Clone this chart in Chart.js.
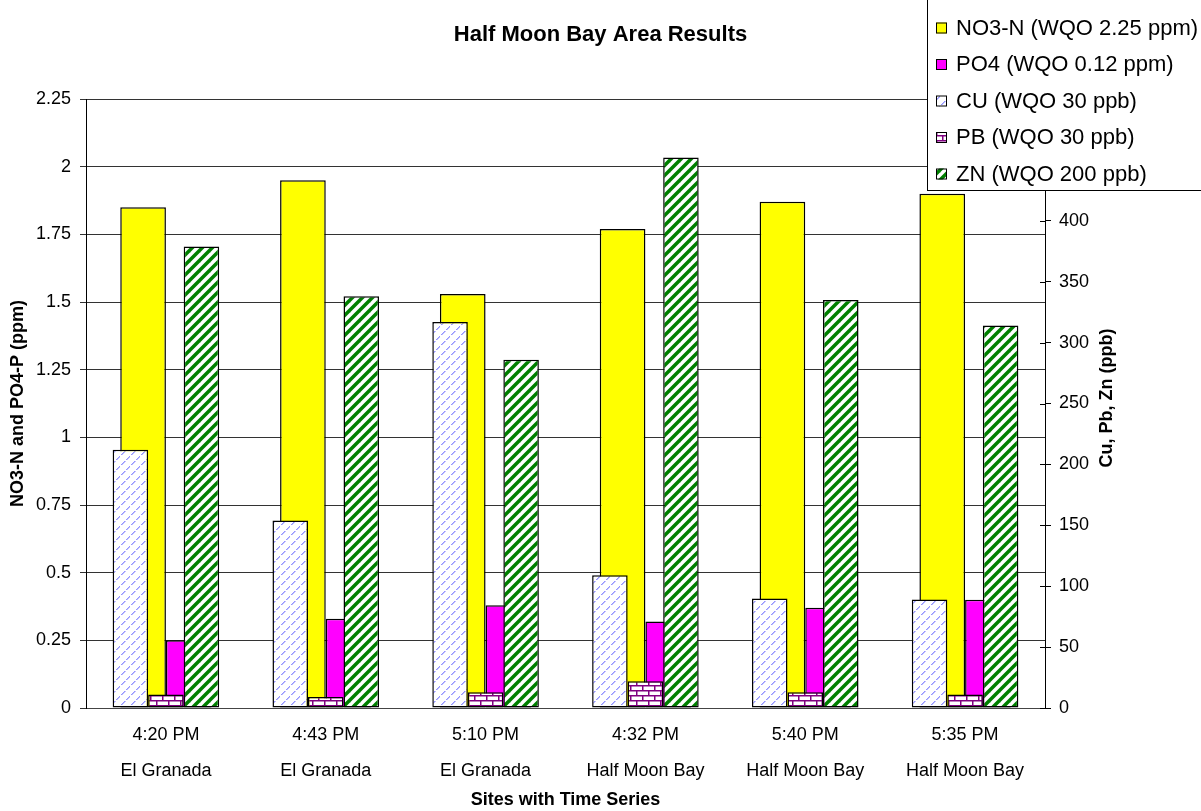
<!DOCTYPE html>
<html>
<head>
<meta charset="utf-8">
<title>Half Moon Bay Area Results</title>
<script src="https://cdn.jsdelivr.net/npm/chart.js@4/dist/chart.umd.min.js"></script>
<style>
    html, body { margin: 0; padding: 0; background: #fff; }
    #grafico { display: block; }
</style>
</head>
<body>
<canvas id="grafico" width="1201" height="811"></canvas>
<script>
const times = ['4:20 PM', '4:43 PM', '5:10 PM', '4:32 PM', '5:40 PM', '5:35 PM'];
const sites = ['El Granada', 'El Granada', 'El Granada', 'Half Moon Bay', 'Half Moon Bay', 'Half Moon Bay'];

// left axis, ppm
const no3 = [1.85, 1.95, 1.53, 1.77, 1.87, 1.90];
const po4 = [0.25, 0.33, 0.38, 0.32, 0.37, 0.40];
// right axis, ppb
const cu = [212, 154, 317, 109, 90, 89];
const pb = [11, 9, 13, 22, 13, 11];
const zn = [379, 338, 286, 452, 335, 314];

const leftTicks = [0, 0.25, 0.5, 0.75, 1, 1.25, 1.5, 1.75, 2, 2.25];
const rightTicks = [0, 50, 100, 150, 200, 250, 300, 350, 400, 450, 500];

const seriesNames = ['NO3-N (WQO 2.25 ppm)', 'PO4 (WQO 0.12 ppm)', 'CU (WQO 30 ppb)', 'PB (WQO 30 ppb)', 'ZN (WQO 200 ppb)'];

const FONT = 'Arial, "Liberation Sans", sans-serif';
const canvas = document.getElementById('grafico');
const ctx = canvas.getContext('2d');

// each x axis keeps its own group of bars, like Excel primary / secondary series
class GroupedBar extends Chart.BarController {
    _getAxis() { return [this._cachedMeta.iScale.id]; }
    _getAxisCount() { return 1; }
}
GroupedBar.id = 'groupedBar';
GroupedBar.defaults = Chart.BarController.defaults;
GroupedBar.overrides = Chart.BarController.overrides;
Chart.register(GroupedBar);

function makePattern(w, h, draw) {
    const c = document.createElement('canvas');
    c.width = w;
    c.height = h;
    const g = c.getContext('2d');
    g.fillStyle = '#fff';
    g.fillRect(0, 0, w, h);
    draw(g);
    return ctx.createPattern(c, 'repeat');
}

const cuFill = makePattern(10, 10, g => {
    g.fillStyle = '#9494ff';
    [[1, 4], [2, 3], [3, 2], [4, 1], [6, 9], [7, 8], [8, 7], [9, 6]].forEach(([x, y]) => g.fillRect(x, y, 1.6, 1));
});

const pbFill = makePattern(12, 10, g => {
    g.fillStyle = '#800080';
    g.fillRect(0, 0, 12, 1.5);
    g.fillRect(0, 5, 12, 1.5);
    g.fillRect(0, 0, 1.5, 5);
    g.fillRect(6, 5, 1.5, 5);
});

const znFill = makePattern(10, 10, g => {
    g.strokeStyle = '#008000';
    g.lineWidth = 3.5;
    for (let k = -1; k <= 1; k++) {
        g.beginPath();
        g.moveTo(k * 10 - 2, 12);
        g.lineTo(k * 10 + 12, -2);
        g.stroke();
    }
});

const barBase = {
    borderColor: '#000',
    borderWidth: 1.5,
    borderSkipped: false,
    barPercentage: 1
};

const extras = {
    id: 'extras',
    afterDraw(chart) {
        const c = chart.ctx;
        const area = chart.chartArea;
        const y2 = chart.scales.y2;

        // right axis ticks cross the axis line
        c.save();
        c.strokeStyle = '#000';
        c.lineWidth = 1;
        y2.ticks.forEach(t => {
            const py = Math.round(y2.getPixelForValue(t.value)) + 0.5;
            c.beginPath();
            c.moveTo(area.right - 5, py);
            c.lineTo(area.right, py);
            c.stroke();
        });

        c.translate(area.right + 62, 398);
        c.rotate(-Math.PI / 2);
        c.fillStyle = '#000';
        c.font = 'bold 18px ' + FONT;
        c.textAlign = 'center';
        c.textBaseline = 'middle';
        c.fillText('Cu, Pb, Zn (ppb)', 0, 0);
        c.restore();

        // legend box
        c.save();
        c.fillStyle = '#fff';
        c.fillRect(927, -1, 300, 192);
        c.strokeStyle = '#000';
        c.lineWidth = 1;
        c.strokeRect(927.5, -1.5, 300, 192);
        c.font = '22px ' + FONT;
        c.textBaseline = 'middle';
        chart.data.datasets.forEach((ds, i) => {
            const cy = 27.5 + i * 36.5;
            c.fillStyle = ds.backgroundColor;
            c.fillRect(936, cy - 5, 11, 11);
            c.strokeRect(936.5, cy - 4.5, 10, 10);
            c.fillStyle = '#000';
            c.fillText(ds.label, 956, cy + 1);
        });
        c.restore();
    }
};

new Chart(ctx, {
    type: 'groupedBar',
    data: {
        labels: times.map((t, i) => [t, sites[i]]),
        datasets: [
            { ...barBase, label: seriesNames[0], data: no3, backgroundColor: '#ffff00', xAxisID: 'x', yAxisID: 'y', order: 2, categoryPercentage: 2 / 3.5 },
            { ...barBase, label: seriesNames[1], data: po4, backgroundColor: '#ff00ff', xAxisID: 'x', yAxisID: 'y', order: 2, categoryPercentage: 2 / 3.5 },
            { ...barBase, label: seriesNames[2], data: cu, backgroundColor: cuFill, xAxisID: 'x2', yAxisID: 'y2', order: 1, categoryPercentage: 3 / 4.5 },
            { ...barBase, label: seriesNames[3], data: pb, backgroundColor: pbFill, xAxisID: 'x2', yAxisID: 'y2', order: 1, categoryPercentage: 3 / 4.5 },
            { ...barBase, label: seriesNames[4], data: zn, backgroundColor: znFill, xAxisID: 'x2', yAxisID: 'y2', order: 1, categoryPercentage: 3 / 4.5 }
        ]
    },
    options: {
        responsive: false,
        animation: false,
        layout: { padding: 0 },
        plugins: {
            legend: { display: false },
            tooltip: { enabled: false },
            title: {
                display: true,
                text: 'Half Moon Bay Area Results',
                color: '#000',
                font: { family: FONT, size: 22, weight: 'bold' },
                padding: { top: 22, bottom: 50.6 }
            }
        },
        scales: {
            x: {
                type: 'category',
                offset: true,
                grid: { display: false, drawTicks: false },
                border: { display: true, color: '#444', width: 1 },
                ticks: {
                    color: '#000',
                    font: { family: FONT, size: 18, lineHeight: 2 },
                    padding: 9,
                    maxRotation: 0,
                    autoSkip: false
                },
                title: {
                    display: true,
                    text: 'Sites with Time Series',
                    color: '#000',
                    font: { family: FONT, size: 18, weight: 'bold' },
                    padding: { top: 0, bottom: 0 }
                },
                afterFit: s => { s.height = 103; }
            },
            x2: {
                type: 'category',
                offset: true,
                display: false
            },
            y: {
                position: 'left',
                min: 0,
                max: 2.25,
                afterBuildTicks: s => { s.ticks = leftTicks.map(v => ({ value: v })); },
                grid: { color: '#333', lineWidth: 1, tickLength: 6 },
                border: { color: '#000', width: 1 },
                ticks: {
                    color: '#000',
                    font: { family: FONT, size: 18 },
                    padding: 9,
                    callback: v => String(v)
                },
                title: {
                    display: true,
                    text: 'NO3-N and PO4-P (ppm)',
                    color: '#000',
                    font: { family: FONT, size: 18, weight: 'bold' },
                    padding: { top: 7, bottom: 0 }
                },
                afterFit: s => { s.width = 86; }
            },
            y2: {
                position: 'right',
                min: 0,
                max: 500,
                afterBuildTicks: s => { s.ticks = rightTicks.map(v => ({ value: v })); },
                grid: { drawOnChartArea: false, color: '#000', tickLength: 6 },
                border: { color: '#000', width: 1 },
                ticks: {
                    color: '#000',
                    font: { family: FONT, size: 18 },
                    padding: 8,
                    callback: v => String(v)
                },
                afterFit: s => { s.width = 156; }
            }
        }
    },
    plugins: [extras]
});
</script>
</body>
</html>
